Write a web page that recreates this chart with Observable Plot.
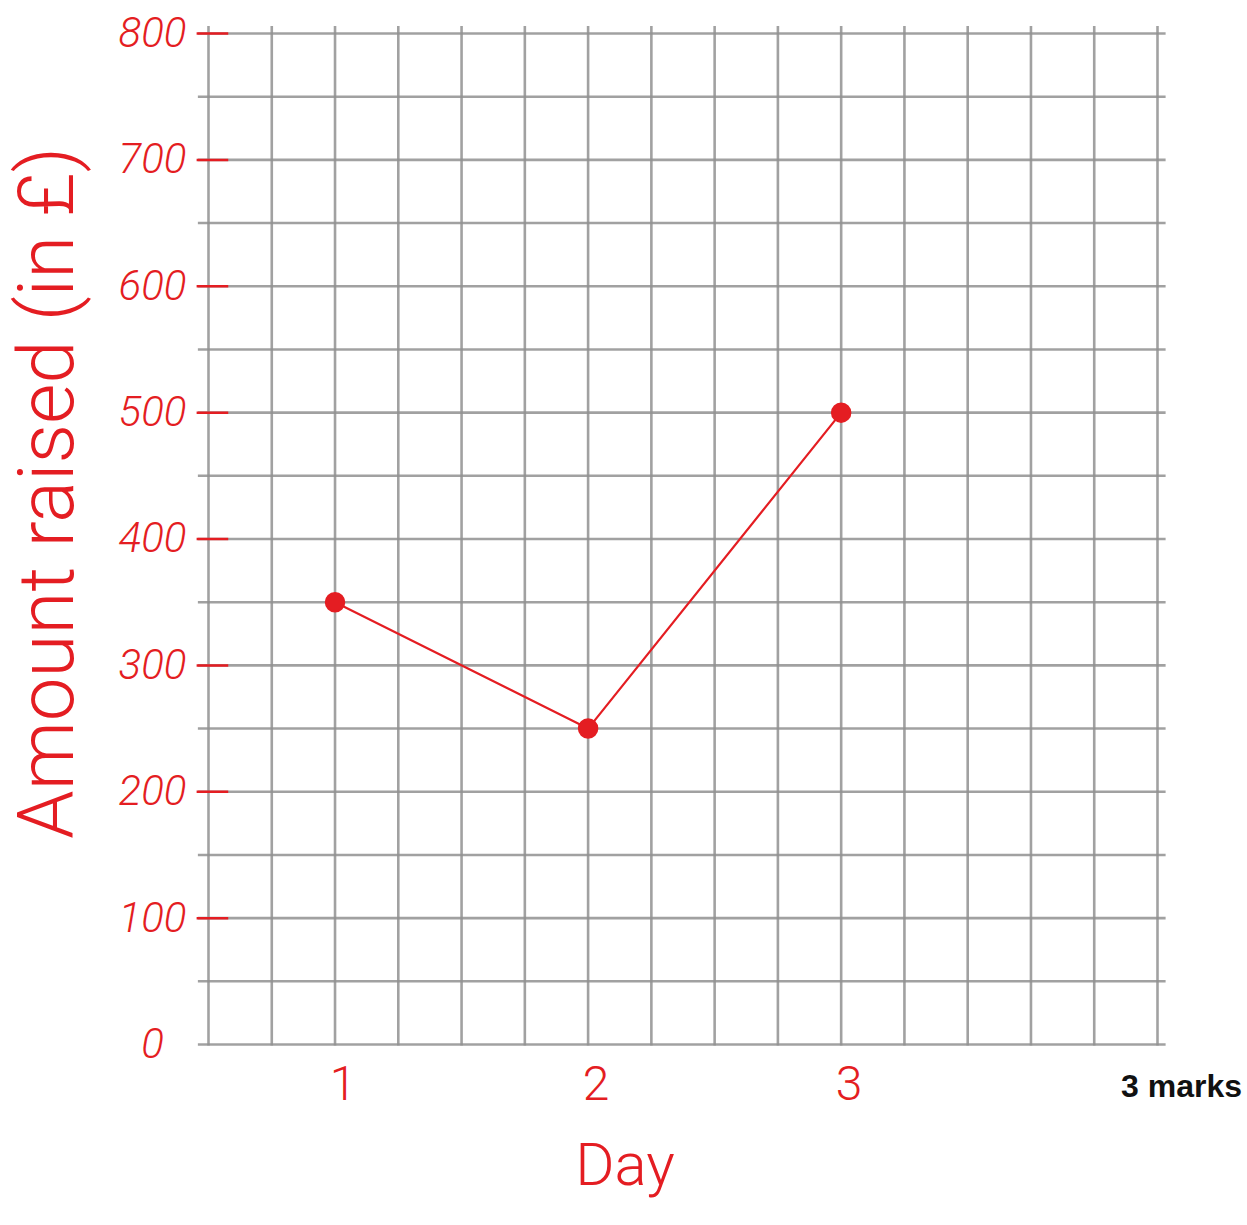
<!DOCTYPE html>
<html>
<head>
<meta charset="utf-8">
<script src="https://cdn.jsdelivr.net/npm/d3@7"></script>
<script src="https://cdn.jsdelivr.net/npm/@observablehq/plot@0.6"></script>
<style>
  html, body { margin: 0; padding: 0; background: #fff; }
  #chart svg { display: block; }
</style>
</head>
<body>
<div id="chart"></div>
<script>
// Data
const days = [1, 2, 3];
const amounts = [350, 250, 500];
const yTickValues = [0, 100, 200, 300, 400, 500, 600, 700, 800];
const yTickLabels = ["0", "100", "200", "300", "400", "500", "600", "700", "800"];
const xTickLabels = ["1", "2", "3"];
const xTitle = "Day";
const yTitle = "Amount raised (in £)";
const marksNote = "3 marks";

const RED = "#e41d22";
const data = days.map((d, i) => ({day: d, amount: amounts[i]}));

// graph-paper grid: 0.25-day columns, 50-unit rows
const gridX = d3.range(0.5, 4.2501, 0.25);
const gridY = d3.range(0, 800.01, 50);

const chart = Plot.plot({
  width: 1247,
  height: 1225,
  marginLeft: 208,
  marginRight: 90,
  marginTop: 33,
  marginBottom: 181,
  x: {type: "linear", domain: [0.5, 4.25], axis: null},
  y: {type: "linear", domain: [0, 800], axis: null},
  style: {background: "#fff"},
  marks: [
    Plot.ruleX(gridX, {x: d => d, y1: -1.2, y2: 805.5, stroke: "#909090", strokeWidth: 2.6, strokeOpacity: 0.85}),
    Plot.ruleY(gridY, {y: d => d, x1: 0.46, x2: 4.284, stroke: "#909090", strokeWidth: 2.6, strokeOpacity: 0.85}),
    // red hand-drawn tick marks on the y axis
    Plot.ruleY(yTickValues.filter(v => v > 0), {y: d => d, x1: 0.455, x2: 0.58, stroke: RED, strokeWidth: 2.5}),
    // y tick labels
    Plot.text(yTickValues, {
      x: 0.5, y: d => d, text: (d, i) => yTickLabels[i],
      dx: -56, dy: 0, fill: RED, fontSize: 42, fontStyle: "italic",
      fontFamily: "Roboto", fontWeight: 300, textAnchor: "middle"
    }),
    // x tick labels
    Plot.text(days, {
      x: d => d, y: 0, text: (d, i) => xTickLabels[i],
      dx: 8, dy: 40, fill: RED, fontSize: 48, fontFamily: "Roboto", fontWeight: 300
    }),
    // data line + points
    Plot.line(data, {x: "day", y: "amount", stroke: RED, strokeWidth: 2.2}),
    Plot.dot(data, {x: "day", y: "amount", r: 9.5, fill: RED, stroke: RED}),
    // titles
    Plot.text([xTitle], {
      frameAnchor: "bottom", text: d => d, dx: -58, dy: 140,
      fill: RED, fontSize: 60, fontFamily: "Roboto", fontWeight: 300
    }),
    Plot.text([yTitle], {
      frameAnchor: "left", text: d => d, dx: -160, dy: -46, rotate: -90,
      fill: RED, fontSize: 78, fontFamily: "Roboto", fontWeight: 300, textAnchor: "middle"
    }),
    Plot.text([marksNote], {
      frameAnchor: "bottom-right", text: d => d, dx: 24, dy: 52,
      fill: "#111", fontSize: 32, fontFamily: "Liberation Sans", fontWeight: "bold", textAnchor: "middle"
    })
  ]
});
document.getElementById("chart").appendChild(chart);
</script>
</body>
</html>
